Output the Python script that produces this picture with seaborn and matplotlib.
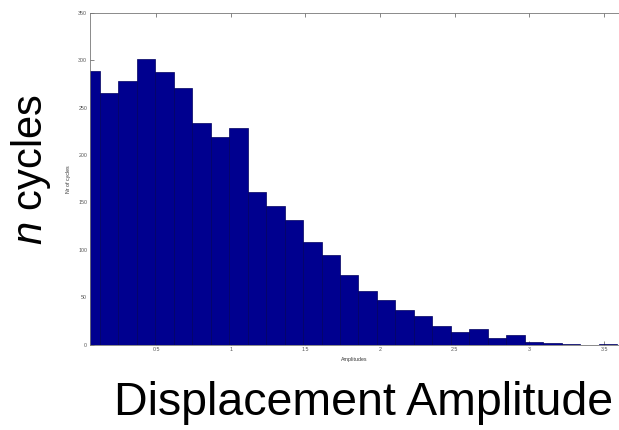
import numpy as np
import pandas as pd
import matplotlib
matplotlib.use("Agg")
import matplotlib.pyplot as plt
import seaborn as sns

# Histogram of displacement amplitudes (cycle counts per bin)
bin_width = 0.1237
cycle_counts = [289, 265, 278, 301, 288, 271, 234, 219, 229, 161,
                146, 132, 108, 95, 73, 57, 47, 37, 30, 20,
                13, 17, 7, 10, 3, 2, 1, 0, 1]
y_ticks = [0, 50, 100, 150, 200, 250, 300, 350]
x_ticks = [0.5, 1, 1.5, 2, 2.5, 3, 3.5]
x_tick_labels = ["0.5", "1", "1.5", "2", "2.5", "3", "3.5"]

n_bins = len(cycle_counts)
bin_edges = np.arange(n_bins + 1) * bin_width
bin_centers = (bin_edges[:-1] + bin_edges[1:]) / 2
df = pd.DataFrame({"amplitude": bin_centers, "count": cycle_counts})

sns.set_style("ticks")
plt.rcParams["font.family"] = ["Liberation Sans", "DejaVu Sans"]
plt.rcParams["mathtext.fontset"] = "custom"
plt.rcParams["mathtext.rm"] = "Liberation Sans"
plt.rcParams["mathtext.it"] = "Liberation Sans:italic"

fig = plt.figure(figsize=(6.19, 4.30), dpi=100)
ax = fig.add_axes([90 / 619, 85.3 / 430, 529 / 619, 331.8 / 430])

sns.histplot(data=df, x="amplitude", weights="count", bins=n_bins,
             binrange=(bin_edges[0], bin_edges[-1]),
             color="#00008F", edgecolor="#000060", linewidth=0.5,
             alpha=1.0, ax=ax)

ax.set_xlim(0.058, 3.6)
ax.set_ylim(0, 350)
ax.set_xticks(x_ticks)
ax.set_xticklabels(x_tick_labels)
ax.set_yticks(y_ticks)
ax.tick_params(direction="in", length=3, width=0.5, colors="#555555",
               labelsize=3.8, pad=2, top=True, right=False)
for side in ax.spines.values():
    side.set_color("#777777")
    side.set_linewidth(0.6)
ax.spines["right"].set_visible(False)
ax.set_xlabel("Amplitudes", fontsize=3.8, labelpad=3, color="#333333")
ax.set_ylabel("Nr of cycles", fontsize=3.8, labelpad=5, color="#333333")

# Large presentation labels
fig.text(363.5 / 619, 1 - 403 / 430, "Displacement Amplitude", fontsize=33.5,
         ha="center", va="center", color="black")
fig.text(31 / 619, 1 - 170 / 430, "$n$ cycles", fontsize=30, rotation=90,
         ha="center", va="center", color="black")

fig.savefig("out.png", dpi=100)
